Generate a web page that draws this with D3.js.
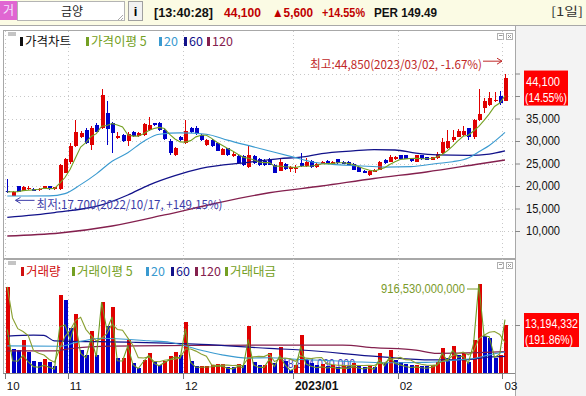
<!DOCTYPE html>
<html>
<head>
<meta charset="utf-8">
<script src="https://cdn.jsdelivr.net/npm/d3@7"></script>
<style>
body { margin: 0; background: #fff; }
svg { display: block; }
text { font-family: "Liberation Sans", Arial, sans-serif; }
.kr { font-family: "Noto Sans CJK KR", "Noto Sans", sans-serif; }
</style>
</head>
<body>
<svg id="chart" width="586" height="396"></svg>
<script>
// 금양 일봉 (2022/10/14 ~ 2023/03/02)

let width = 586, height = 396

var open = [18900,17800,20000,18900,19300,19400,19100,19400,19900,19300,
    19300,23000,25300,29000,31000,32400,29100,33500,32800,36300,
    34000,30600,31300,29900,32000,31100,31300,32500,33900,34000,
    32400,30100,26900,31000,29500,32900,33000,31400,29200,30300,
    29500,27000,28400,26700,26700,26600,24200,26600,26100,25500,
    26100,24700,23400,24900,23700,23800,25200,24500,25600,24300,
    24900,25600,24900,25900,25300,25400,25000,24300,23400,22400,
    23200,23600,25800,25400,25900,26900,26800,26100,25400,26900,
    26400,25800,26200,27300,28400,30200,31000,31300,32800,30800,
    34700,37300,38000,38900,39900,38900]
var high = [21500,18900,20100,19900,19900,19600,19500,20100,20000,19800,
    24800,26300,29600,34700,32300,32800,33300,34000,41500,39000,
    34300,31900,31600,31900,32300,32000,34000,35300,34000,34300,
    32600,30400,28600,31200,34700,33200,33300,31600,30500,30500,
    29700,28400,28500,27500,26900,26800,29100,26900,26300,25900,
    26300,24900,26200,25100,24500,24700,27300,26200,25800,25200,
    25600,25800,25600,26100,25500,25600,25200,24400,23500,23500,
    23700,25600,26000,26800,26600,27000,27000,26200,27000,27000,
    26500,26500,27500,30600,32400,32400,32600,33300,33000,34900,
    41500,39600,41000,40900,41200,44850]
var low = [18500,17700,18600,18800,19100,18900,19000,19300,19100,19100,
    19200,22800,25000,28700,30700,29400,28100,32000,32700,29100,
    27300,30400,29800,29000,31000,30900,31200,32300,33400,32300,
    30300,27000,26700,30100,29300,31800,31400,30000,29000,28700,
    27700,26800,26600,26500,25000,24500,24000,24900,24500,24400,
    24600,22800,23300,23600,23200,22900,24300,24300,24100,24100,
    24800,24800,24800,25000,24900,24600,23500,23100,22800,22300,
    23100,23500,25000,25300,25700,25900,26000,25400,25300,25800,
    25700,25700,26100,27200,28200,29800,30800,31100,30300,30500,
    34500,36200,37700,38700,38100,38800]
var close = [18700,18750,18700,19700,19500,19000,19400,19900,19300,19700,
    24600,25900,29000,32000,31800,29500,32800,32100,40200,32600,
    31700,31100,29900,31500,31200,31700,33800,33500,33600,32500,
    30400,27400,28400,30300,32300,32000,31600,30200,30300,28800,
    27800,28200,26800,27200,25200,24700,26900,25100,24700,24600,
    24700,22900,25400,23800,24300,24000,24400,25400,24200,25000,
    25400,24900,25400,25100,25000,24700,23600,23200,22900,23300,
    23500,25400,25100,26500,26400,26000,26100,25500,26900,25900,
    25800,26400,27200,29800,30000,30800,32300,32300,31000,34700,
    36000,39000,39500,39200,38500,44100]

// 거래량 (백만주)
var volume = [23.8,6.5,6.25,9.0,5.6,3.2,2.8,3.7,2.8,1.8,
    21.5,20.1,12.4,16.3,6.25,4.9,11.5,4.9,19.7,13.0,
    18.3,3.9,3.9,9.0,2.5,1.3,3.5,5.3,2.8,2.1,
    3.3,4.6,5.8,4.9,14.1,3.2,1.7,1.8,1.9,2.0,
    2.3,2.4,1.6,1.4,2.4,2.0,12.9,3.0,2.1,2.1,
    5.3,2.6,7.0,3.2,0.8,2.0,10.4,3.5,2.6,2.0,
    2.4,1.8,2.2,1.6,1.9,1.7,2.5,2.0,1.6,2.2,
    1.4,5.5,2.6,6.3,3.6,3.0,2.4,2.0,2.2,1.9,
    1.7,2.1,2.8,6.9,4.0,7.4,4.9,5.3,3.0,9.0,
    24.5,10.0,9.5,4.0,4.9,13.194332]

// 거래대금 (십억원)
var tradeValue = [445,122,117,177,109,61,54,74,54,35,
    473,492,341,513,197,152,357,162,729,442,
    576,121,119,275,79,41,114,178,94,69,
    103,131,161,150,451,104,54,55,57,59,
    66,66,44,38,62,51,342,77,53,53,
    134,62,173,78,18.874,48,265,88,64,49,
    60,46,55,41,48,43,61,47,37,50,
    33,135,66,164,94,79,63,52,58,50,
    44,55,75,200,120,229,156,171,95,297,
    916.53,380,371,157,193,548]

// 가격 이동평균 20/60/120 (index, 원)
var priceMA20 = [[0,17780],[8,17800],[11,18300],[14,20300],[17,22700],[20,25500],[23,27400],[26,29900],
    [29,31500],[33,31800],[38,31500],[42,30200],[47,28700],[51,27500],[55,26300],[58,25400],[62,24800],
    [67,24500],[72,24200],[77,24300],[82,25000],[85,25400],[88,26200],[90,27600],[92,29000],[95,31900]]
var priceMA60 = [[0,13040],[9,14100],[18,15800],[23,18000],[27,20200],[32,22300],[37,23900],[46,25260],
    [52,26100],[56,26400],[60,27200],[66,27800],[70,28100],[74,28000],[78,27300],[82,26900],[88,26800],
    [92,27100],[95,27800]]
var priceMA120 = [[0,8890],[10,9560],[20,11110],[30,13560],[40,16220],[50,18500],[60,20000],[70,21670],
    [80,23110],[90,24890],[95,25780]]

// 거래량 이동평균 20/60/120 (index, 백만주)
var volMA20 = [[0,7.4],[10,7.3],[13,8.3],[18,9.5],[27,8.8],[31,8.4],[37,6.2],[41,4.9],[46,4.0],[50,4.1],
    [56,3.6],[60,3.4],[66,3.0],[72,2.7],[80,2.8],[86,3.5],[89,3.9],[92,4.9],[95,5.7]]
var volMA60 = [[0,10.1],[5,10.4],[7,10.3],[9,8.8],[24,8.4],[37,7.8],[50,6.7],[56,6.25],[71,4.4],[81,3.5],
    [88,3.6],[92,4.3],[95,4.5]]
var volMA120 = [[0,6.0],[9,6.0],[12,6.6],[20,7.3],[35,7.5],[50,7.6],[64,7.6],[70,6.9],[78,6.2],[82,5.3],
    [90,5.5],[95,5.8]]

var tickLabels = ['10', '11', '12', '2023/01', '02', '03']
var tickIndex = [0, 12, 34, 55, 75, 95]
var priceTicks = [10000, 15000, 20000, 25000, 30000, 35000, 40000, 45000]
var priceLabels = ['10,000', '15,000', '20,000', '25,000', '30,000', '35,000', '', '']

var red = '#e00000', blue = '#0000c8'
var c5 = '#74a023', c20 = '#3a9ad0', c60 = '#12128a', c120 = '#84204e'

var svg = d3.select('#chart')

var x = d3.scaleLinear().domain([0, 95]).range([7.3, 505])
var yP = d3.scaleLinear().domain([10000, 30000]).range([231, 141])
var yV = d3.scaleLinear().domain([0, 13.194332]).range([372.5, 325])
var yT = d3.scaleLinear().domain([0, 916.53]).range([372.5, 284])

function drawFrame() {
    svg.append('rect').attr('width', width).attr('height', height).attr('fill', '#fff')
    svg.append('rect').attr('x', 515).attr('y', 25).attr('width', 71).attr('height', 371).attr('fill', '#f3f3f3')
    svg.append('rect').attr('width', width).attr('height', 25).attr('fill', '#fbfbe4')
    svg.append('line').attr('x1', 0).attr('x2', width).attr('y1', 25.5).attr('y2', 25.5).attr('stroke', '#a8a8a8')
    var g = svg.append('g').attr('stroke', '#a8a8a8').attr('fill', 'none')
    g.append('line').attr('x1', 3.5).attr('x2', 3.5).attr('y1', 30).attr('y2', 373)
    g.append('line').attr('x1', 3).attr('x2', 515).attr('y1', 30.5).attr('y2', 30.5)
    g.append('line').attr('x1', 3).attr('x2', 515).attr('y1', 258.5).attr('y2', 258.5)
    g.append('line').attr('x1', 3).attr('x2', 515).attr('y1', 259.5).attr('y2', 259.5)
    g.append('line').attr('x1', 515.5).attr('x2', 515.5).attr('y1', 25).attr('y2', 396)
    svg.append('line').attr('x1', 3).attr('x2', 515).attr('y1', 373.5).attr('y2', 373.5).attr('stroke', '#888')

    // small panel icons
    ;[32, 261].forEach(function(y0) {
        svg.append('rect').attr('x', 8).attr('y', y0).attr('width', 8).attr('height', 4).attr('fill', '#c4c4c4')
        svg.append('rect').attr('x', 497.5).attr('y', y0 + 1.5).attr('width', 6).attr('height', 6)
            .attr('fill', '#fff').attr('stroke', '#b0b0b0')
        svg.append('rect').attr('x', 499).attr('y', y0 + 3).attr('width', 3).attr('height', 1).attr('fill', '#999')
        svg.append('rect').attr('x', 506.5).attr('y', y0 + 1.5).attr('width', 6).attr('height', 6)
            .attr('fill', '#fff').attr('stroke', '#b0b0b0')
        svg.append('path').attr('d', 'M508,' + (y0 + 3) + 'l3,3M511,' + (y0 + 3) + 'l-3,3').attr('stroke', '#999')
    })
}

function drawHeader() {
    svg.append('rect').attr('x', 0).attr('y', 1).attr('width', 17).attr('height', 19).attr('fill', '#e066d2')
    svg.append('text').attr('class', 'kr').attr('x', 8.5).attr('y', 15).attr('text-anchor', 'middle')
        .attr('font-size', 12).attr('fill', '#f4e4ff').text('거')
    svg.append('rect').attr('x', 17.5).attr('y', 1.5).attr('width', 107).attr('height', 19)
        .attr('fill', '#fff').attr('stroke', '#b4b4b4')
    svg.append('text').attr('class', 'kr').attr('x', 72).attr('y', 16).attr('text-anchor', 'middle')
        .attr('font-size', 12).attr('fill', '#222').text('금양')
    svg.append('path').attr('d', 'M123,15L118,20M123,18L121,20').attr('stroke', '#aaa')
    svg.append('rect').attr('x', 128.5).attr('y', 1.5).attr('width', 14).attr('height', 19)
        .attr('fill', '#f2f2f2').attr('stroke', '#a0a0a0')
    svg.append('text').attr('x', 135.5).attr('y', 16).attr('text-anchor', 'middle')
        .attr('font-size', 13).attr('font-weight', 'bold').text('i')

    var items = [
        {t: '[13:40:28]', x: 154, w: 59, c: '#111'},
        {t: '44,100', x: 224, w: 37, c: '#c00000'},
        {t: '▲5,600', x: 272, w: 41, c: '#c00000'},
        {t: '+14.55%', x: 322, w: 43, c: '#c00000'},
        {t: 'PER 149.49', x: 374, w: 63, c: '#111'}
    ]
    svg.selectAll('.hd').data(items).enter().append('text')
        .attr('x', d => d.x).attr('y', 17).attr('font-size', 13).attr('font-weight', 'bold')
        .attr('fill', d => d.c).attr('textLength', d => d.w).attr('lengthAdjust', 'spacingAndGlyphs')
        .text(d => d.t)
    svg.append('text').attr('class', 'kr').attr('x', 551).attr('y', 16).attr('font-size', 12)
        .attr('fill', '#333').attr('textLength', 32).attr('lengthAdjust', 'spacingAndGlyphs').text('[1일]')
}

function drawGrid() {
    var g = svg.append('g').attr('stroke', '#c8c8c8').attr('stroke-dasharray', '1,3')
    g.selectAll('line.h').data(priceTicks).enter().append('line')
        .attr('x1', 4).attr('x2', 515).attr('y1', d => Math.round(yP(d)) + 0.5).attr('y2', d => Math.round(yP(d)) + 0.5)
    g.append('line').attr('x1', 4).attr('x2', 515).attr('y1', Math.round(yV(13.194332)) + 0.5)
        .attr('y2', Math.round(yV(13.194332)) + 0.5)
    g.selectAll('line.v').data(tickIndex).enter().append('line')
        .attr('x1', d => Math.round(x(d) - 2.6) + 0.5).attr('x2', d => Math.round(x(d) - 2.6) + 0.5)
        .attr('y1', 31).attr('y2', 373)
}

function drawAxes() {
    // 40,000 / 45,000 labels sit under the current price box, so only their ticks show
    var ax = svg.append('g').attr('transform', 'translate(515,0)')
        .call(d3.axisRight(yP).tickValues(priceTicks).tickSize(5).tickPadding(6)
            .tickFormat((d, i) => priceLabels[i]))
    ax.select('.domain').remove()
    ax.selectAll('line').attr('stroke', '#888')
    ax.selectAll('text').filter((d, i) => priceLabels[i] != '')
        .attr('font-size', 12).attr('fill', '#111')
        .attr('textLength', 34).attr('lengthAdjust', 'spacingAndGlyphs')
    ax.selectAll('text').filter((d, i) => priceLabels[i] == '').remove()

    svg.append('line').attr('x1', 515).attr('x2', 520).attr('y1', Math.round(yV(13.194332)) + 0.5)
        .attr('y2', Math.round(yV(13.194332)) + 0.5).attr('stroke', '#888')

    var xt = svg.append('g')
    xt.selectAll('line').data(tickIndex).enter().append('line')
        .attr('x1', d => Math.round(x(d) - 2.6) + 0.5).attr('x2', d => Math.round(x(d) - 2.6) + 0.5)
        .attr('y1', 373).attr('y2', 379).attr('stroke', '#777')
    xt.selectAll('text').data(tickIndex).enter().append('text')
        .attr('x', d => x(d) - 0.5).attr('y', 390)
        .attr('font-size', (d, i) => tickLabels[i] == '2023/01' ? 12 : 11.5)
        .attr('font-weight', (d, i) => tickLabels[i] == '2023/01' ? 'bold' : 'normal')
        .attr('fill', '#111')
        .text((d, i) => tickLabels[i])
}

function drawLegend(y, items) {
    var g = svg.append('g')
    items.forEach(function(d) {
        g.append('rect').attr('x', d.m).attr('y', y - 4).attr('width', 3).attr('height', 9).attr('fill', d.c)
        g.append('text').attr('class', 'kr').attr('x', d.m + 5).attr('y', y + 5)
            .attr('font-size', 12.5).attr('fill', d.c).text(d.t)
    })
}

function movingAvg(arr, n) {
    return arr.map((v, i) => d3.mean(arr.slice(Math.max(0, i - n + 1), i + 1)))
}

function drawPrice() {
    svg.append('clipPath').attr('id', 'cp').append('rect').attr('x', 4).attr('y', 31).attr('width', 511).attr('height', 227)
    var g = svg.append('g').attr('clip-path', 'url(#cp)')

    var idx = d3.range(close.length)
    var cg = g.append('g').attr('shape-rendering', 'crispEdges')
    cg.selectAll('line').data(idx).enter().append('line')
        .attr('x1', i => Math.round(x(i)) + 0.5).attr('x2', i => Math.round(x(i)) + 0.5)
        .attr('y1', i => yP(high[i])).attr('y2', i => yP(low[i]))
        .attr('stroke', i => close[i] >= open[i] ? red : blue)
    cg.selectAll('rect').data(idx).enter().append('rect')
        .attr('x', i => Math.round(x(i)) - 1.5).attr('width', 4)
        .attr('y', i => yP(Math.max(open[i], close[i])))
        .attr('height', i => Math.max(1, Math.abs(yP(open[i]) - yP(close[i]))))
        .attr('fill', i => close[i] >= open[i] ? red : blue)

    var smooth = d3.line().x(d => x(d[0])).y(d => yP(d[1])).curve(d3.curveMonotoneX)
    g.append('path').datum(priceMA120).attr('d', smooth).attr('fill', 'none').attr('stroke', c120).attr('stroke-width', 1.3)
    g.append('path').datum(priceMA60).attr('d', smooth).attr('fill', 'none').attr('stroke', c60).attr('stroke-width', 1.3)
    g.append('path').datum(priceMA20).attr('d', smooth).attr('fill', 'none').attr('stroke', c20).attr('stroke-width', 1.1)
    var ma5 = movingAvg(close, 5)
    g.append('path').datum(ma5).attr('d', d3.line().x((d, i) => x(i)).y(d => yP(d)))
        .attr('fill', 'none').attr('stroke', c5).attr('stroke-width', 1.1)

    // 최고 / 최저 표시
    var hi = d3.maxIndex(high), lo = d3.minIndex(low)
    var ay = yP(high[hi]) - 13
    svg.append('path').attr('d', 'M' + (x(hi) - 22) + ',' + ay + 'H' + (x(hi) - 3) + 'M' + (x(hi) - 8) + ',' + (ay - 3) + 'L' + (x(hi) - 3) + ',' + ay + 'L' + (x(hi) - 8) + ',' + (ay + 3))
        .attr('stroke', '#c02828').attr('fill', 'none')
    svg.append('text').attr('class', 'kr').attr('x', x(hi) - 23).attr('y', ay + 7.5).attr('text-anchor', 'end')
        .attr('font-size', 12).attr('fill', '#c02828').attr('textLength', 172).attr('lengthAdjust', 'spacingAndGlyphs')
        .text('최고:44,850(2023/03/02, -1.67%)')
    var by = yP(low[lo]) + 4
    svg.append('path').attr('d', 'M' + (x(lo) + 22) + ',' + by + 'H' + (x(lo) + 3) + 'M' + (x(lo) + 8) + ',' + (by - 3) + 'L' + (x(lo) + 3) + ',' + by + 'L' + (x(lo) + 8) + ',' + (by + 3))
        .attr('stroke', '#3c3ca8').attr('fill', 'none')
    svg.append('text').attr('class', 'kr').attr('x', x(lo) + 24).attr('y', by + 8.5)
        .attr('font-size', 12).attr('fill', '#3c3ca8').attr('textLength', 186).attr('lengthAdjust', 'spacingAndGlyphs')
        .text('최저:17,700(2022/10/17, +149.15%)')

    // 현재가 박스
    var top = yP(44100) - 7
    svg.append('rect').attr('x', 524).attr('y', top).attr('width', 44).attr('height', 35).attr('fill', '#ff0000')
    svg.append('text').attr('x', 526).attr('y', top + 15).attr('font-size', 12).attr('fill', '#fff')
        .attr('textLength', 34).attr('lengthAdjust', 'spacingAndGlyphs').text('44,100')
    svg.append('text').attr('x', 525).attr('y', top + 31).attr('font-size', 12).attr('fill', '#fff')
        .attr('textLength', 42).attr('lengthAdjust', 'spacingAndGlyphs').text('(14.55%)')
}

function drawVolume() {
    svg.append('clipPath').attr('id', 'cv').append('rect').attr('x', 4).attr('y', 260).attr('width', 511).attr('height', 113)
    var g = svg.append('g').attr('clip-path', 'url(#cv)')
    var idx = d3.range(volume.length)

    g.append('text').attr('x', 282).attr('y', 368).attr('font-size', 12).attr('fill', '#4040b8')
        .attr('textLength', 73).attr('lengthAdjust', 'spacingAndGlyphs').text('18,874,030,000')

    g.append('g').attr('shape-rendering', 'crispEdges').selectAll('rect').data(idx).enter().append('rect')
        .attr('x', i => Math.round(x(i)) - 1.5).attr('width', 4)
        .attr('y', i => yV(volume[i])).attr('height', i => 372.5 - yV(volume[i]))
        .attr('fill', i => i == 0 || volume[i] >= volume[i - 1] ? red : blue)

    var smooth = d3.line().x(d => x(d[0])).y(d => yV(d[1])).curve(d3.curveMonotoneX)
    g.append('path').datum(volMA120).attr('d', smooth).attr('fill', 'none').attr('stroke', c120).attr('stroke-width', 1.2)
    g.append('path').datum(volMA60).attr('d', smooth).attr('fill', 'none').attr('stroke', c60).attr('stroke-width', 1.2)
    g.append('path').datum(volMA20).attr('d', smooth).attr('fill', 'none').attr('stroke', c20).attr('stroke-width', 1.1)
    g.append('path').datum(movingAvg(volume, 5)).attr('d', d3.line().x((d, i) => x(i)).y(d => yV(d)))
        .attr('fill', 'none').attr('stroke', '#8aa032').attr('stroke-width', 1.1)
    g.append('path').datum(tradeValue).attr('d', d3.line().x((d, i) => x(i)).y(d => yT(d)))
        .attr('fill', 'none').attr('stroke', '#6e9a22').attr('stroke-width', 1.1)

    // 거래대금 최고
    var mx = d3.maxIndex(tradeValue)
    var ly = yT(tradeValue[mx]) + 5
    svg.append('line').attr('x1', 467).attr('x2', x(mx)).attr('y1', ly).attr('y2', ly).attr('stroke', '#7a9a2a')
    svg.append('text').attr('x', 465).attr('y', ly + 4).attr('text-anchor', 'end').attr('font-size', 12)
        .attr('fill', '#7a9a2a').attr('textLength', 84).attr('lengthAdjust', 'spacingAndGlyphs').text('916,530,000,000')

    // 현재 거래량 박스
    var top = yV(13.194332) - 12
    svg.append('rect').attr('x', 524).attr('y', top).attr('width', 55).attr('height', 34).attr('fill', '#ff0000')
    svg.append('text').attr('x', 525).attr('y', top + 15).attr('font-size', 12).attr('fill', '#fff')
        .attr('textLength', 53).attr('lengthAdjust', 'spacingAndGlyphs').text('13,194,332')
    svg.append('text').attr('x', 525).attr('y', top + 31).attr('font-size', 12).attr('fill', '#fff')
        .attr('textLength', 48).attr('lengthAdjust', 'spacingAndGlyphs').text('(191.86%)')
}

drawFrame()
drawHeader()
drawGrid()
drawPrice()
drawVolume()
drawAxes()
drawLegend(41, [
    {m: 20, t: '가격차트', c: '#111'},
    {m: 86, t: '가격이평 5', c: c5},
    {m: 159, t: '20', c: c20},
    {m: 184, t: '60', c: c60},
    {m: 207, t: '120', c: c120}
])
drawLegend(271, [
    {m: 21, t: '거래량', c: '#d01010'},
    {m: 72, t: '거래이평 5', c: c5},
    {m: 146, t: '20', c: c20},
    {m: 171, t: '60', c: c60},
    {m: 195, t: '120', c: c120},
    {m: 225, t: '거래대금', c: c5}
])
</script>
</body>
</html>
